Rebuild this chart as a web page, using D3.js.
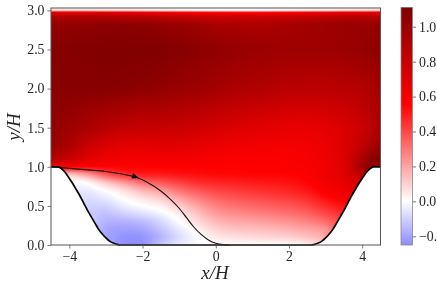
<!DOCTYPE html>
<html>
<head>
<meta charset="utf-8">
<script src="https://cdn.jsdelivr.net/npm/d3@7"></script>
<style>
  html, body { margin: 0; padding: 0; background: #fff; overflow: hidden; }
  #wrap { position: relative; width: 437px; height: 290px; }
  canvas, svg { position: absolute; left: 0; top: 0; }
  text { font-family: "Liberation Serif", serif; fill: #262626; }
</style>
</head>
<body>
<div id="wrap">
  <canvas id="field" width="437" height="290"></canvas>
  <svg id="chart" width="437" height="290"></svg>
</div>
<script>
// Values
const gridX = [-4.5, -4, -3.5, -3, -2.5, -2, -1.5, -1, -0.5, 0, 0.5, 1, 1.5, 2, 2.5, 3, 3.5, 4, 4.25, 4.5];
const gridY = [0, 0.1, 0.2, 0.3, 0.4, 0.5, 0.6, 0.7, 0.8, 0.9, 1, 1.1, 1.25, 1.5, 2, 2.5, 2.82, 2.92, 2.97, 3, 3.03];
// one row per gridY, one value per gridX
const fieldValues = [
  [-0.02, -0.05, -0.1, -0.18, -0.25, -0.25, -0.12, -0.04, -0.01, 0, 0, 0, 0, 0, 0.03, 0.1, 0.3, 0.5, 0.5, 0.5],
  [-0.02, -0.05, -0.1, -0.2, -0.24, -0.24, -0.17, -0.08, -0.01, 0.05, 0.07, 0.08, 0.09, 0.1, 0.13, 0.18, 0.4, 0.5, 0.5, 0.5],
  [-0.02, -0.05, -0.1, -0.2, -0.21, -0.2, -0.13, -0.05, 0.03, 0.1, 0.13, 0.14, 0.15, 0.17, 0.2, 0.22, 0.42, 0.5, 0.5, 0.5],
  [-0.02, -0.05, -0.1, -0.17, -0.17, -0.15, -0.09, 0, 0.08, 0.16, 0.19, 0.2, 0.22, 0.24, 0.27, 0.32, 0.42, 0.52, 0.52, 0.52],
  [-0.02, -0.05, -0.11, -0.14, -0.1, -0.07, -0.03, 0.04, 0.13, 0.22, 0.25, 0.27, 0.29, 0.31, 0.34, 0.4, 0.47, 0.56, 0.56, 0.56],
  [-0.02, -0.05, -0.1, -0.1, -0.04, 0, 0.03, 0.11, 0.2, 0.28, 0.31, 0.33, 0.35, 0.37, 0.4, 0.47, 0.52, 0.6, 0.6, 0.6],
  [-0.02, -0.05, -0.08, -0.05, 0.01, 0.06, 0.11, 0.2, 0.28, 0.34, 0.37, 0.39, 0.41, 0.43, 0.46, 0.53, 0.58, 0.65, 0.65, 0.65],
  [-0.01, -0.04, -0.05, 0, 0.07, 0.16, 0.22, 0.31, 0.37, 0.41, 0.43, 0.45, 0.46, 0.48, 0.51, 0.58, 0.62, 0.7, 0.72, 0.72],
  [0, -0.02, 0, 0.12, 0.22, 0.32, 0.37, 0.42, 0.46, 0.48, 0.49, 0.5, 0.51, 0.52, 0.55, 0.6, 0.65, 0.76, 0.8, 0.82],
  [0.1, 0.08, 0.2, 0.38, 0.47, 0.5, 0.5, 0.52, 0.53, 0.54, 0.54, 0.55, 0.55, 0.55, 0.57, 0.62, 0.67, 0.85, 0.95, 0.98],
  [0.6, 0.58, 0.56, 0.56, 0.56, 0.56, 0.56, 0.56, 0.56, 0.56, 0.56, 0.56, 0.56, 0.57, 0.58, 0.62, 0.68, 0.98, 1.08, 0.98],
  [0.88, 0.8, 0.68, 0.62, 0.6, 0.6, 0.6, 0.6, 0.59, 0.58, 0.57, 0.57, 0.57, 0.58, 0.59, 0.62, 0.7, 0.92, 1.08, 1.1],
  [1, 0.92, 0.78, 0.7, 0.66, 0.66, 0.67, 0.67, 0.65, 0.63, 0.61, 0.6, 0.6, 0.6, 0.6, 0.63, 0.7, 0.82, 0.94, 1],
  [1.03, 0.98, 0.92, 0.86, 0.82, 0.8, 0.8, 0.79, 0.77, 0.74, 0.71, 0.69, 0.67, 0.65, 0.65, 0.67, 0.71, 0.78, 0.85, 0.92],
  [1.07, 1.08, 1.08, 1.08, 1.07, 1.05, 1.03, 1, 0.98, 0.95, 0.92, 0.9, 0.88, 0.86, 0.85, 0.85, 0.86, 0.88, 0.91, 0.96],
  [1.08, 1.09, 1.1, 1.11, 1.11, 1.11, 1.1, 1.08, 1.06, 1.04, 1.02, 1, 0.99, 0.98, 0.98, 0.98, 0.99, 1.02, 1.04, 1.05],
  [1.02, 1.03, 1.04, 1.05, 1.05, 1.04, 1.02, 1, 0.97, 0.93, 0.92, 0.91, 0.92, 0.94, 0.96, 0.98, 0.99, 1, 1, 1],
  [0.9, 0.9, 0.9, 0.9, 0.88, 0.86, 0.84, 0.82, 0.8, 0.78, 0.77, 0.77, 0.78, 0.8, 0.82, 0.84, 0.86, 0.88, 0.88, 0.88],
  [0.7, 0.7, 0.7, 0.69, 0.68, 0.66, 0.64, 0.62, 0.6, 0.59, 0.58, 0.58, 0.59, 0.6, 0.62, 0.64, 0.66, 0.68, 0.68, 0.68],
  [0.1, 0.1, 0.1, 0.09, 0.08, 0.07, 0.05, 0.04, 0.03, 0.02, 0.02, 0.02, 0.03, 0.04, 0.05, 0.06, 0.08, 0.09, 0.1, 0.1],
  [0, 0, 0, 0, 0, 0, 0, 0, 0, 0, 0, 0, 0, 0, 0, 0, 0, 0, 0, 0]
];
const wallX = [-4.5, -4.3, -4.2, -4.1, -4, -3.9, -3.8, -3.7, -3.6, -3.5, -3.4, -3.3, -3.2, -3.1, -3, -2.9, -2.8, -2.7, -2.6, -2.5, 2.5, 2.6, 2.7, 2.8, 2.9, 3, 3.1, 3.2, 3.3, 3.4, 3.5, 3.6, 3.7, 3.8, 3.9, 4, 4.1, 4.2, 4.3, 4.5];
const wallY = [1, 1, 0.97, 0.92, 0.85, 0.78, 0.7, 0.62, 0.53, 0.44, 0.36, 0.28, 0.2, 0.14, 0.09, 0.05, 0.025, 0.008, 0, 0, 0, 0, 0.008, 0.025, 0.05, 0.09, 0.14, 0.2, 0.28, 0.36, 0.44, 0.53, 0.62, 0.7, 0.78, 0.85, 0.92, 0.97, 1, 1];
const lineX = [-4.5, -4, -3.5, -3, -2.6, -2.2, -1.9, -1.5, -1.25, -1, -0.8, -0.6, -0.4, -0.2, 0, 0.2, 0.4];
const lineY = [1, 0.98, 0.96, 0.94, 0.91, 0.87, 0.81, 0.69, 0.59, 0.47, 0.35, 0.23, 0.135, 0.065, 0.022, 0.005, 0];
const arrowAt = [-2.19, 0.87];
const xTicks = [-4, -2, 0, 2, 4];
const yTicks = [0, 0.5, 1, 1.5, 2, 2.5, 3];
const barTicks = [-0.2, 0, 0.2, 0.4, 0.6, 0.8, 1];

const plot = {left: 51, right: 380.5, top: 8, bottom: 245};
const bar = {left: 401, right: 412.5, top: 7.5, bottom: 245};
const frameColor = "#555";

const xScale = d3.scaleLinear().domain([-4.5, 4.5]).range([plot.left, plot.right]);
const yScale = d3.scaleLinear().domain([0, 3.03]).range([plot.bottom, plot.top]);
const barScale = d3.scaleLinear().domain([-0.25, 1.11]).range([bar.bottom, bar.top]);

// seismic, symmetric around 0
const color = d3.scaleLinear()
  .domain([-1.11, -0.555, 0, 0.555, 1.11])
  .range(["#00004d", "#0000ff", "#ffffff", "#ff0000", "#800000"])
  .clamp(true);

// shade between the values of the grid
function fieldAt(x, y) {
  x = Math.max(-4.5, Math.min(4.5, x));
  y = Math.max(0, Math.min(3.03, y));
  const i = Math.min(d3.bisectRight(gridX, x) - 1, gridX.length - 2);
  const j = Math.min(d3.bisectRight(gridY, y) - 1, gridY.length - 2);
  const tx = (x - gridX[i]) / (gridX[i + 1] - gridX[i]);
  const ty = (y - gridY[j]) / (gridY[j + 1] - gridY[j]);
  const low = d3.interpolateNumber(fieldValues[j][i], fieldValues[j][i + 1])(tx);
  const high = d3.interpolateNumber(fieldValues[j + 1][i], fieldValues[j + 1][i + 1])(tx);
  return d3.interpolateNumber(low, high)(ty);
}

// small average so the grid cells don't show, not near the top layer
function shadeAt(x, y) {
  if (y > 2.7) return fieldAt(x, y);
  let sum = 0;
  for (let a = -2; a <= 2; a++) {
    for (let b = -2; b <= 2; b++) {
      sum += fieldAt(x + a * 0.07, y + b * 0.015);
    }
  }
  return sum / 25;
}

const ctx = document.getElementById("field").getContext("2d");
for (let px = Math.floor(plot.left); px < plot.right; px++) {
  for (let py = Math.floor(plot.top); py < plot.bottom; py++) {
    ctx.fillStyle = color(shadeAt(xScale.invert(px + 0.5), yScale.invert(py + 0.5)));
    ctx.fillRect(px, py, 1, 1);
  }
}

// colorbar
for (let py = Math.floor(bar.top); py < bar.bottom; py++) {
  ctx.fillStyle = color(barScale.invert(py + 0.5));
  ctx.fillRect(bar.left, py, bar.right - bar.left, 1);
}

const svg = d3.select("#chart");

const wallPoints = wallX.map((d, i) => [d, wallY[i]]);
const linePoints = lineX.map((d, i) => [d, lineY[i]]);

// white area under the wall
svg.append("path")
  .attr("d", d3.area().x(d => xScale(d[0])).y0(yScale(0)).y1(d => yScale(d[1])).curve(d3.curveMonotoneX)(wallPoints))
  .attr("fill", "#fff");

svg.append("path")
  .attr("d", d3.line().x(d => xScale(d[0])).y(d => yScale(d[1])).curve(d3.curveMonotoneX)(linePoints))
  .attr("fill", "none").attr("stroke", "#111").attr("stroke-width", 1.1);

svg.append("path")
  .attr("d", d3.line().x(d => xScale(d[0])).y(d => yScale(d[1])).curve(d3.curveMonotoneX)(wallPoints))
  .attr("fill", "none").attr("stroke", "#000").attr("stroke-width", 1.7);

// arrow head on the streamline
svg.append("path")
  .attr("d", "M-3.5,-2.8L3.5,0L-3.5,2.8Z")
  .attr("fill", "#000")
  .attr("transform", `translate(${xScale(arrowAt[0])},${yScale(arrowAt[1])}) rotate(18)`);

function styleAxis(g) {
  g.selectAll(".domain").remove();
  g.selectAll(".tick line").attr("stroke", frameColor).attr("stroke-width", 0.8);
  g.selectAll(".tick text").attr("font-size", 13.8).attr("fill", "#262626");
}
const fmtMinus = d => d3.format(".0f")(d).replace("-", "\u2212");
const fmt1 = d => d3.format(".1f")(d).replace("-", "\u2212");

svg.append("g").attr("transform", `translate(0,${plot.bottom})`)
  .call(d3.axisBottom(xScale).tickValues(xTicks).tickFormat(fmtMinus).tickSize(3.5).tickPadding(3))
  .call(styleAxis);
svg.append("g").attr("transform", `translate(${plot.left},0)`)
  .call(d3.axisLeft(yScale).tickValues(yTicks).tickFormat(fmt1).tickSize(3.5).tickPadding(3))
  .call(styleAxis);
svg.append("g").attr("transform", `translate(${bar.right},0)`)
  .call(d3.axisRight(barScale).tickValues(barTicks).tickFormat(fmt1).tickSize(3.5).tickPadding(3))
  .call(styleAxis);

svg.append("rect")
  .attr("x", plot.left).attr("y", plot.top)
  .attr("width", plot.right - plot.left).attr("height", plot.bottom - plot.top)
  .attr("fill", "none").attr("stroke", frameColor).attr("stroke-width", 1);
svg.append("rect")
  .attr("x", bar.left).attr("y", bar.top)
  .attr("width", bar.right - bar.left).attr("height", bar.bottom - bar.top)
  .attr("fill", "none").attr("stroke", "#888").attr("stroke-width", 0.8);

// axis labels
svg.append("text")
  .attr("x", 215).attr("y", 279).attr("text-anchor", "middle")
  .attr("font-size", 19).attr("font-style", "italic")
  .text("x/H");
svg.append("text")
  .attr("transform", "translate(20,127) rotate(-90)").attr("text-anchor", "middle")
  .attr("font-size", 19).attr("font-style", "italic")
  .text("y/H");
</script>
</body>
</html>
